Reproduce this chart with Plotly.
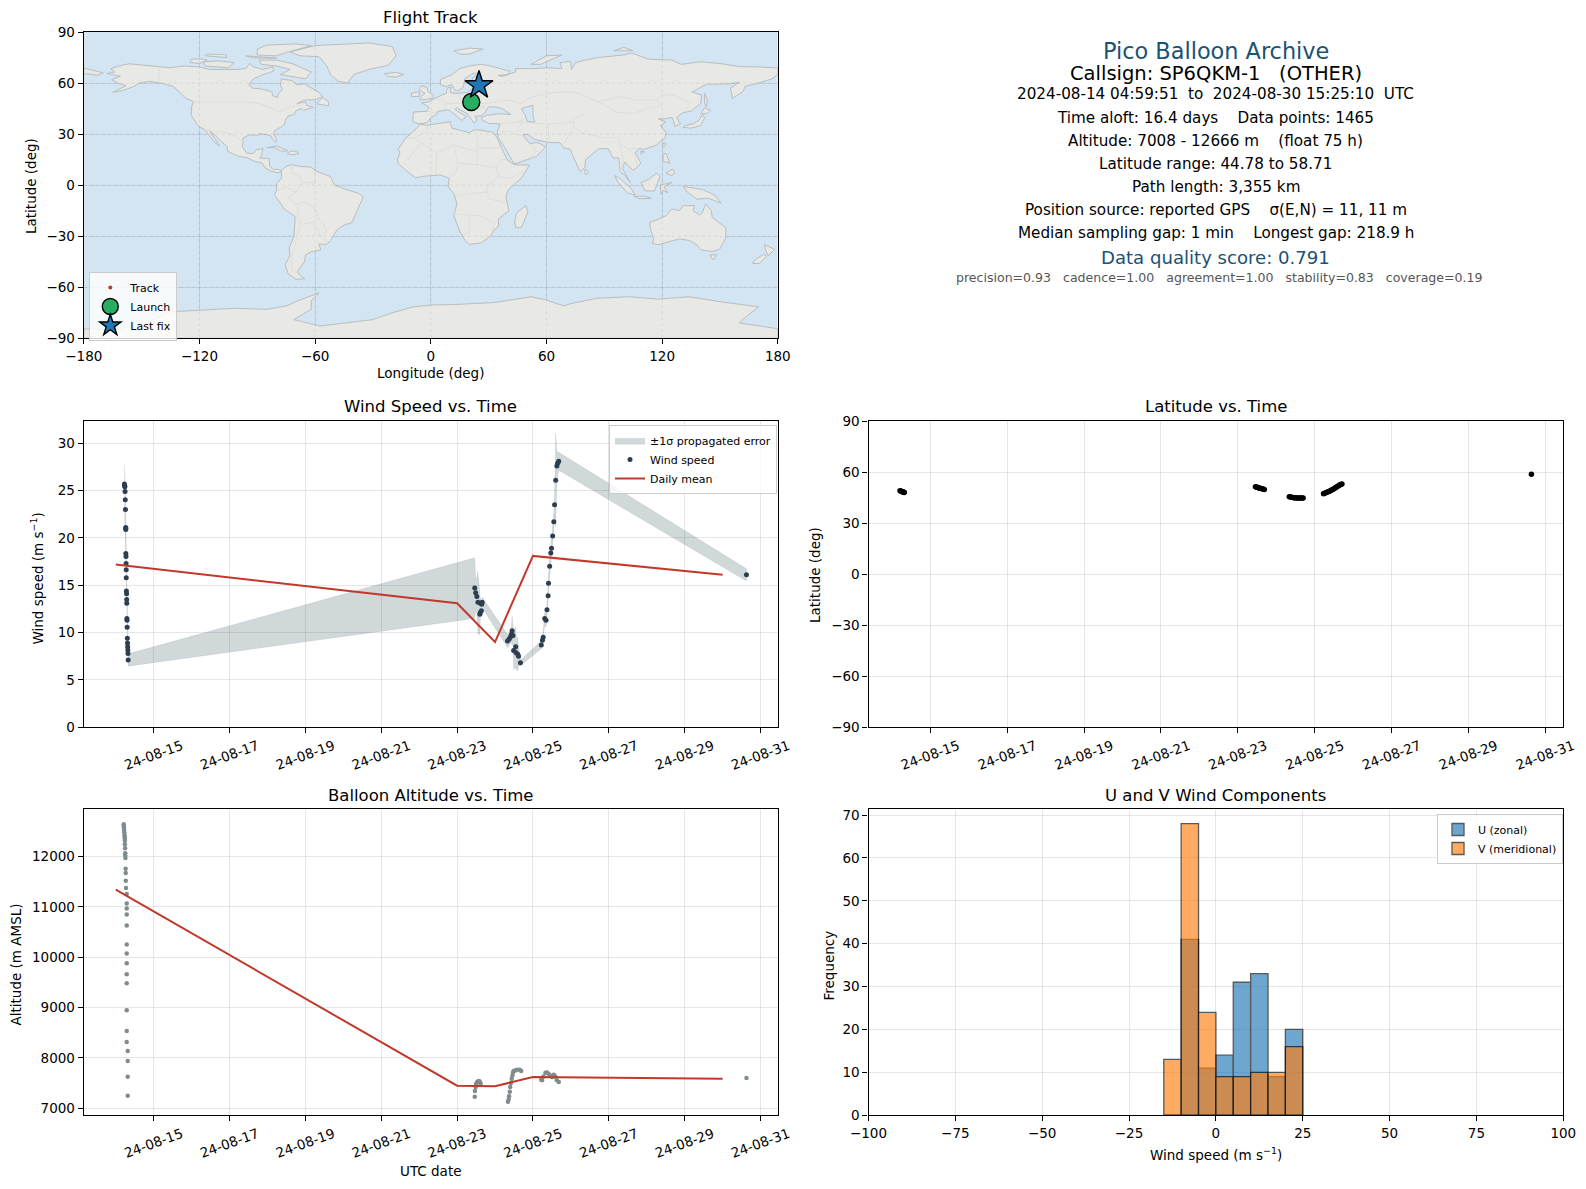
import pandas as pd
import plotly.graph_objects as go

# Pico balloon summary page: map, stats text, wind / latitude / altitude vs time, U-V histogram

# page has an 8px body margin, so the figure is 16px smaller than the window and positions below are window pixels
PAGE = 8
W = 1586 - 2 * PAGE
H = 1189 - 2 * PAGE

# --- land outlines (lon, lat) ---
north_america = [(-168,65.6),(-164,66.5),(-166,68.4),(-162,70),(-156.5,71.3),(-150,70.5),(-141,69.7),(-135,69),(-128,70),(-120,69.5),(-115,68),(-108,68),(-100,68),(-96,68.5),(-94,71.5),(-92,69.5),(-87,68),(-82,69.5),(-81.5,67),(-87,65),(-92,62.5),(-94.5,59),(-92.5,57),(-88,56.5),(-82.5,55),(-82,52.5),(-79.5,51.5),(-79,54),(-77,56),(-78,58.5),(-77.5,62.4),(-72,61.5),(-69.5,59),(-65.5,59.5),(-62,57),(-58,54.5),(-56,52),(-60,50.2),(-66,50),(-69.5,47.8),(-65,49),(-64.5,47),(-61,45.7),(-66,44),(-67,45),(-70,43.7),(-70.7,41.7),(-74,40.6),(-75.5,38),(-76,35.5),(-78,34),(-81,32),(-81.5,30),(-80,26.8),(-80.5,25.2),(-82,26.8),(-83,29),(-85,29.7),(-89,30.3),(-90,29.2),(-94,29.6),(-97.3,27.8),(-97.7,22.5),(-95.5,18.8),(-92,18.6),(-90.5,20.8),(-87,21.5),(-88,17),(-88.8,15.8),(-84,15.8),(-83.5,11),(-81.5,9),(-79.5,9.4),(-77.5,8.6),(-78,7.5),(-80,7.3),(-83,8.3),(-85.8,10),(-87.5,13),(-91.5,14),(-95,16),(-100,17),(-105.5,20),(-105.5,22.5),(-109,26),(-112.5,30),(-114.7,31.7),(-112,27.5),(-109.5,23),(-112,25),(-115,29.5),(-117.2,32.6),(-120.5,34.5),(-122.5,37.8),(-124.3,41),(-124,46.5),(-123,49),(-127,51),(-130.5,54.5),(-133.5,58),(-140,60),(-146,61),(-151,60),(-154,58),(-160,55.5),(-165,54.5),(-158,58.5),(-162,59.8),(-165.5,62),(-161,64)]
baffin = [(-80,73.5),(-72,71.5),(-67,69),(-62,66.5),(-65,62.5),(-72,64),(-78,65),(-73,68),(-80,70),(-88,71),(-89,73.5)]
victoria_isl = [(-117,70),(-105,69),(-102,72),(-110,73),(-118,72.5)]
banks_isl = [(-125,72),(-120,71.5),(-116,73.5),(-119,74.2),(-124,74)]
ellesmere = [(-90,76.5),(-80,76),(-75,78),(-62,82),(-70,83),(-85,82.3),(-90,80)]
devon_isl = [(-96,76),(-82,75),(-80,74.7),(-92,74.7)]
melville_isl = [(-117,76),(-106,75),(-106,76.6),(-116,77)]
newfoundland = [(-59,47.7),(-53,46.7),(-53,49),(-56,51.5),(-58,49.5)]
cuba = [(-85,22),(-80,23),(-74.2,20.2),(-77.5,19.9),(-81,22)]
hispaniola = [(-74.4,18.5),(-71.5,17.8),(-68.4,18.6),(-70,19.9),(-73,19.9)]
greenland = [(-73,78.3),(-60,82),(-32,83.6),(-20,81.5),(-18,76),(-22,70.5),(-32,68),(-40,65),(-43,60),(-48,61),(-52,65),(-54,70),(-58,75.5),(-68,76)]
iceland = [(-24,65.5),(-18,66.3),(-14,65),(-18,63.5),(-22.5,64)]
south_america = [(-77.5,8.6),(-75,11),(-72,12),(-68,11),(-62,10.6),(-60,8.5),(-52,5),(-50,0),(-44,-2.5),(-37.5,-4.8),(-35,-7),(-37,-12),(-39,-17),(-41,-22),(-45,-23.5),(-48.5,-26),(-52,-32.5),(-54,-34.8),(-58,-34.5),(-57,-38),(-62,-39),(-65,-41),(-65.5,-45),(-69,-50.5),(-68.3,-52.5),(-65.3,-55),(-70,-55.3),(-74,-52),(-75.5,-47),(-73,-41),(-73.5,-37),(-71,-30),(-70.3,-18.5),(-76,-14),(-81,-6),(-80,-2.5),(-80,1),(-77.5,4)]
africa = [(-5.9,35.8),(-2,35.2),(10,37.3),(11,33.5),(15,32.3),(20,30.8),(23,32.7),(32,31.2),(34.3,28),(37,21),(39.5,15),(43.2,12),(51.2,11.8),(47,4.2),(40,-3),(39,-7),(40.5,-15),(35,-20),(35.3,-24),(32.7,-26.5),(31,-30),(26,-34),(20,-34.8),(18,-33),(15,-27),(12,-18),(13.5,-11),(12,-5),(9,-1),(9.5,4),(5,6),(-4,5.2),(-8,4.3),(-13,8.8),(-16.8,12.5),(-17.3,14.7),(-16,19.5),(-17,21),(-13,27.7),(-9.7,31),(-6.5,34.3)]
madagascar = [(49.3,-12),(50.4,-15.6),(47,-25),(44,-25),(43.5,-21),(44.5,-16.3)]
eurasia = [(-9,37),(-9.3,39),(-9,43),(-2,43.4),(-1,46),(-4.7,48.4),(-1.5,48.8),(2,51),(4,52),(8,54),(8.5,57),(10.5,57.5),(10,54.5),(12,54),(14,54),(19,54.5),(21,56),(24,57.5),(24,59.3),(30,60),(23,60),(21.5,61),(21.5,63),(25,65),(22,65.7),(17.5,62.5),(17.5,60.5),(16.5,57),(14,55.5),(12.5,56),(11,59),(8,58),(5,59),(5,62),(11,65),(15,68.5),(20,70),(26,71),(31,70),(41,67),(40,65),(35,64.5),(37,63.8),(44,66.5),(44,68.5),(54,68.5),(60,69),(68,68.5),(67,72),(72.5,72.8),(73,68),(75,72),(80,73.5),(87,75),(100,76.5),(104,77.7),(113,74),(125,73.5),(130,71),(140,72.5),(150,71.5),(160,69.7),(170,69.5),(180,68.8),(180,65),(177,62.5),(170,60),(163,58),(162,55),(156.5,51),(155.5,57),(160,60.5),(155,59.5),(143,59.3),(135.5,54.7),(140.5,53),(140,48),(135,43.5),(130.5,42.5),(127.5,39.8),(129.5,36),(126.5,34.5),(126,37.5),(125,39.8),(121.5,39),(118,39),(122,37),(119,35),(122,31),(121.5,28),(117,23.5),(110.5,21),(108,21.5),(106,19),(109,13),(106.5,10),(105,8.7),(100.5,13.5),(99.5,9.5),(103.5,1.5),(100.5,6),(98.3,8),(97.5,16),(94.5,16),(92,21.5),(87,21.3),(80.3,15),(80,10.5),(77.5,8),(73,19),(72.5,21),(69,22),(67,25),(61.5,25),(57,26),(54,26.8),(50,30),(48,29.5),(50.3,26),(51.5,24.5),(55,25),(56.5,24.5),(59.5,22.5),(55,17),(45,13),(43,12.8),(39,21),(35,28),(34.5,31.5),(36,36),(30,36.3),(26.5,38.5),(26.5,40),(29,41),(35,42),(41.5,41.5),(37,45),(35,45.4),(33,46),(30,46),(28,42.5),(26,40.7),(23,40.5),(24,38),(22.5,36.5),(19.5,41),(19,42),(13.5,45.5),(12.5,44.5),(18.5,40.2),(16,38),(12,42),(9,44.3),(3.5,43.3),(3,41.7),(0,39.5),(-2,36.8),(-5.5,36)]
chukotka = [(-180,68.8),(-175,67.5),(-170,66),(-173,64.5),(-178,65.5),(-180,65)]
great_britain = [(-5.5,50),(1,51),(1.5,52.8),(-1.5,55),(-2,57.5),(-5,58.5),(-6,56),(-3,54),(-5,52)]
ireland = [(-10,52),(-6,52.2),(-6,55),(-10,54)]
svalbard = [(12,79),(20,80.5),(27,80),(20,77),(15,77)]
novaya_zemlya = [(52,71),(57,71),(68,76.5),(60,76)]
severnaya = [(95,79),(105,79),(100,81)]
sakhalin = [(142,54),(143.5,50),(143,46),(142,48)]
honshu = [(130.8,34),(135,33.5),(140,35),(142,39.5),(141,41.5),(139,38),(136,36),(132,35)]
hokkaido = [(140,42),(143,42),(145,44),(142,45.5)]
taiwan = [(121,25),(122,24.5),(120.8,22),(120,23)]
hainan = [(109,20),(110.8,19.6),(109,18.2)]
luzon = [(120.5,18.5),(122,18.5),(124,13),(120.5,14)]
mindanao = [(122,7),(125.5,9.5),(126.5,7),(125,5.7)]
sumatra = [(95.3,5.6),(98,4),(104,-2),(106,-6),(102,-4.5),(97,2)]
java = [(105.5,-6.5),(111,-6.5),(114.5,-7.8),(108,-7.9)]
borneo = [(109,1.5),(113,3.3),(117,7),(119,5),(117.5,1),(116,-3.5),(111,-3.2)]
sulawesi = [(119.5,-5.5),(119,0),(125,1.5),(121,-1),(123,-4.5),(120.5,-3)]
new_guinea = [(131,-0.8),(141,-2.6),(147.5,-6),(150.5,-10.5),(144,-7.7),(138,-8.2),(133,-4)]
sri_lanka = [(80,9.5),(82,7.5),(80.5,6),(79.8,8)]
tasmania = [(145,-41),(148.3,-41),(147,-43.5),(146,-43.5)]
nz_north = [(173,-35),(178.5,-37.7),(175,-41.5),(174,-39)]
nz_south = [(172.5,-40.7),(174.3,-41.7),(170.5,-46),(167,-46),(168,-44)]
australia = [(113.5,-22),(114,-26),(115.5,-31.5),(115,-34.3),(118,-35),(124,-33),(129,-31.6),(134,-32.5),(138,-35),(140,-38),(146,-39),(150,-37.5),(153,-31),(153,-25),(146,-19),(145.5,-15),(142.5,-11),(141,-16),(139.5,-17.5),(136,-15),(136.8,-12),(131,-12),(129,-15),(125,-14),(122,-18),(117,-20.5)]
antarctica = [(-180,-84.5),(-165,-85),(-150,-82),(-135,-74.4),(-120,-73.5),(-102,-72.4),(-85,-73),(-75,-71),(-68,-67.5),(-58,-63.3),(-62,-68),(-62,-73),(-71,-79),(-57.6,-82.8),(-30,-79),(-20,-75),(-9,-71.5),(0,-70.5),(15,-70),(33,-69),(52,-65.6),(60,-67.5),(69,-71),(72,-69.8),(86,-66.5),(103,-65.6),(118,-67),(134,-65.6),(150,-68.5),(162,-70.5),(170,-71.5),(163.5,-77.3),(160,-81),(178,-84),(180,-84.5),(180,-90),(-180,-90)]
caspian = [(47,45),(53,47),(53,41),(54,37),(50,37.5),(49,41)]

land_shapes = [north_america, baffin, victoria_isl, banks_isl, ellesmere, devon_isl, melville_isl, newfoundland, cuba, hispaniola,
               greenland, iceland, south_america, africa, madagascar, eurasia, chukotka, great_britain, ireland, svalbard, novaya_zemlya,
               severnaya, sakhalin, honshu, hokkaido, taiwan, hainan, luzon, mindanao, sumatra, java, borneo, sulawesi, new_guinea,
               sri_lanka, tasmania, nz_north, nz_south, australia, antarctica]

borders = [
    [(-123,49),(-95,49),(-89,48),(-83,45.5),(-79,43),(-75,45),(-69,47.3),(-67,45)], [(-141,69.7),(-141,60)],
    [(-117,32.5),(-108,31.5),(-103,29.5),(-97.3,26)],
    [(-72,12),(-72,7),(-67.5,6),(-67,1.5),(-70,-4),(-74,-7.5),(-70.5,-11),(-65,-10),(-60,-14),(-58,-20),(-55,-24),(-54,-27),(-57.5,-30),(-53.5,-33.5)],
    [(-70,-18),(-68,-24),(-70,-33),(-72,-42),(-72,-50),(-69,-52)], [(-69,-11),(-69,-17),(-67,-23),(-62.5,-22),(-58,-20)],
    [(-80,-3.5),(-75,-1),(-70,-4)], [(-60,8.5),(-60,1.5),(-67,1.5)], [(-62,-22),(-58,-27),(-57.5,-30)],
    [(-2,35),(-1.5,32),(-8.5,28),(-13,27.7)], [(-8.5,27.5),(3,19),(12,23.5),(24,20),(24,31.5)], [(25,22),(37,22)],
    [(12,23.5),(14,13),(13,7),(9,4.5)], [(3,19),(3,11.5),(2.5,6.5)], [(-12,15),(-5,25)], [(14,13),(24,12),(24,20)],
    [(24,12),(34,10),(36,15),(39,15)], [(34,10),(35,5),(41,4),(48,8)], [(35,5),(29,-1),(30,-8),(39.5,-10.5)],
    [(13,-6),(29,-4)], [(12,-17),(25,-18),(33,-22),(32,-26)], [(20,-18),(20,-28),(17,-29)],
    [(28,59),(28,55),(24,52),(23,49),(28,45.5),(22,44)], [(3,51),(8,49),(7,44)], [(-1.8,43.4),(3,42.5)], [(14,54),(15,51),(23,49.5)],
    [(8,48),(17,48),(22,48),(28,48),(40,50),(47,48),(50,51),(61,54),(70,55),(77,54),(87,49)],
    [(87,49),(98,52),(107,50),(117,50),(120,53),(126,53),(135,48),(131,43)], [(87,49),(96,43),(105,42),(112,45),(120,47),(117,50)],
    [(80,42),(74,39),(74,34),(78,31),(88,28),(97,28),(98,24),(102,21.5),(108,21.5)], [(61,36),(61,30),(61.5,25)],
    [(44,37),(48,38.5),(45,33),(48,30)], [(36,36),(44,37),(61,36),(74,37)], [(74,34),(71,28),(69,24)],
    [(35,29),(39,32),(47,29),(52,23),(55,20),(52,17)], [(98,24),(100,15),(99,10)], [(102,21.5),(106,17),(107,11)],
]

# --- flight track ---
track_lon = [20.6, 21.0, 21.4, 21.8, 22.0, 21.5, 21.0, 22.4]
track_lat = [48.9, 47.0, 45.5, 44.8, 46.0, 48.0, 50.5, 52.9]
launch_lon = [21.0]
launch_lat = [48.9]
last_lon = [25.0]
last_lat = [58.7]

# --- wind speed: time as fractional day of August 2024, speed and 1 sigma error (m/s) ---
wind_day = [14.228,14.232,14.236,14.24,14.245,14.25,14.255,14.262,14.263,14.264,14.265,14.27,14.272,14.275,14.276,14.28,14.285,14.288,14.29,14.293,14.296,14.30,14.305,14.31,14.314,14.318,14.322,14.326,
            23.465,23.49,23.52,23.55,23.60,23.61,23.615,23.64,23.65,23.66,
            24.33,24.37,24.40,24.43,24.45,24.475,24.49,24.545,24.55,24.60,24.62,24.67,
            25.22,25.25,25.27,25.31,25.345,25.37,25.40,25.41,25.44,25.47,25.49,25.52,25.55,25.57,25.60,25.63,25.65,25.68,
            30.63]
wind_speed = [25.7,25.6,25.5,25.4,24.9,24.05,23.0,21.1,21.0,20.9,18.35,18.05,17.3,16.65,15.8,14.4,14.1,13.5,13.1,11.5,11.3,10.55,9.4,8.9,8.5,8.15,7.8,7.1,
              14.7,14.2,13.8,13.2,11.95,12.1,13.1,12.3,13.0,13.2,
              9.1,9.3,9.5,9.8,10.2,9.7,8.1,8.5,7.9,7.7,7.5,6.8,
              8.7,9.2,9.5,11.5,11.3,12.4,13.9,15.2,17.0,18.4,18.9,20.2,21.7,23.5,26.1,27.6,27.9,28.1,
              16.1]
wind_err = [2.1,2.0,1.9,1.9,1.5,1.3,1.2,1.0,1.0,1.0,0.9,0.9,0.8,0.8,0.8,0.7,0.7,0.7,0.7,0.6,0.6,0.6,0.6,0.6,0.6,0.6,0.6,0.65,
            3.2,1.7,1.9,3.3,2.2,1.0,0.6,0.5,0.5,0.55,
            0.7,0.7,0.7,0.8,1.5,1.0,2.0,2.1,1.8,1.7,1.0,0.3,
            0.4,0.5,0.6,0.7,0.7,0.8,0.8,0.8,0.9,0.9,0.9,1.0,1.0,1.0,5.0,1.5,1.2,0.95,
            0.65]
mean_day = [14, 23, 24, 25, 30]
mean_wind = [17.2, 13.1, 9.0, 18.1, 16.1]
mean_alt = [11340, 7450, 7440, 7620, 7590]

# --- latitude ---
lat_day = [14.21,14.23,14.25,14.27,14.29,14.31,14.32,
           23.46,23.48,23.50,23.52,23.54,23.56,23.58,23.60,23.63,23.66,23.69,
           24.34,24.37,24.40,24.43,24.46,24.49,24.52,24.55,24.58,24.61,24.64,24.67,24.70,
           25.23,25.26,25.29,25.32,25.35,25.38,25.41,25.44,25.47,25.50,25.53,25.56,25.59,25.62,25.65,25.68,25.71,
           30.64]
lat_deg = [48.95,48.8,48.6,48.4,48.3,48.1,48.0,
           51.4,51.2,51.0,50.9,50.7,50.5,50.4,50.3,50.1,50.0,49.8,
           45.4,45.3,45.2,45.0,44.9,44.85,44.8,44.8,44.8,44.8,44.8,44.8,44.8,
           47.2,47.5,47.8,48.1,48.4,48.7,49.0,49.4,49.8,50.2,50.6,51.1,51.5,52.0,52.4,52.7,53.0,
           58.7]

# --- altitude ---
alt_day = [14.21,14.21,14.215,14.22,14.225,14.23,14.235,14.236,14.24,14.24,14.245,14.25,14.25,14.255,14.26,14.262,14.263,14.27,14.289,14.289,14.289,14.289,14.289,14.289,14.289,14.289,14.289,14.289,14.289,14.289,14.289,14.315,14.315,14.315,14.315,
           23.465,23.47,23.49,23.50,23.53,23.56,23.58,23.60,23.62,
           24.34,24.36,24.37,24.39,24.40,24.42,24.44,24.46,24.475,24.49,24.53,24.58,24.65,24.69,
           25.22,25.24,25.28,25.33,25.37,25.41,25.46,25.50,25.55,25.59,25.63,25.68,
           30.63]
alt_m = [12639,12613,12573,12527,12481,12428,12395,12362,12310,12244,12165,12066,12020,11967,11756,11671,11519,11374,11255,11064,10965,10847,10629,10254,10076,9878,9661,9483,8949,8534,8316,8138,7941,7625,7249,
         7229,7346,7425,7490,7523,7536,7542,7523,7490,
         7131,7176,7242,7327,7425,7503,7588,7654,7712,7739,7752,7765,7765,7739,
         7569,7556,7634,7706,7712,7686,7654,7621,7667,7634,7556,7523,
         7601]

# --- histogram of U and V ---
bin_centers = [-12.5, -7.5, -2.5, 2.5, 7.5, 12.5, 17.5, 22.5]
u_counts = [0, 41, 11, 14, 31, 33, 9, 20]
v_counts = [13, 68, 24, 9, 9, 10, 10, 16]

map_xticks = [-180, -120, -60, 0, 60, 120, 180]
map_yticks = [-90, -60, -30, 0, 30, 60, 90]

INK = '#2c3e50'
RED = '#c0392b'
GREY_PTS = '#7f8c8d'
NAVY = '#1a5276'
GRID = 'rgba(128,128,128,0.2)'
FONT = 'DejaVu Sans'


def to_time(days):
    return [(pd.Timestamp('2024-08-01') + pd.Timedelta(days=d - 1)).isoformat() for d in days]


def flat(lines, close=False):
    xs, ys = [], []
    for line in lines:
        xs += [p[0] for p in line]
        ys += [p[1] for p in line]
        if close:
            xs.append(line[0][0])
            ys.append(line[0][1])
        xs.append(None)
        ys.append(None)
    return xs, ys


def fx(px):
    return (px - PAGE) / W


def fy(py):
    return 1 - (py - PAGE) / H


def label(text, px, py, size, color='black', angle=0):
    fig.add_annotation(text=text, xref='paper', yref='paper', x=fx(px), y=fy(py), showarrow=False,
                       font=dict(size=size, color=color), xanchor='center', yanchor='middle', textangle=angle)


fig = go.Figure()

# map panel
x, y = flat(land_shapes, close=True)
fig.add_trace(go.Scatter(x=x, y=y, mode='lines', fill='toself', fillcolor='#e8e8e4', line=dict(color='#b4b9bb', width=0.9),
                         hoverinfo='skip', showlegend=False, xaxis='x', yaxis='y'))
x, y = flat(borders)
fig.add_trace(go.Scatter(x=x, y=y, mode='lines', line=dict(color='#dbdbd8', width=0.8), hoverinfo='skip', showlegend=False, xaxis='x', yaxis='y'))
x, y = flat([caspian], close=True)
fig.add_trace(go.Scatter(x=x, y=y, mode='lines', fill='toself', fillcolor='#d3e5f2', line=dict(color='#b4b9bb', width=0.9),
                         hoverinfo='skip', showlegend=False, xaxis='x', yaxis='y'))
fig.add_trace(go.Scatter(x=track_lon, y=track_lat, mode='markers', name='Track', marker=dict(color=RED, size=4), xaxis='x', yaxis='y', legend='legend'))
fig.add_trace(go.Scatter(x=launch_lon, y=launch_lat, mode='markers', name='Launch', marker=dict(color='#27ae60', size=17, line=dict(color='black', width=1.4)), xaxis='x', yaxis='y', legend='legend'))
fig.add_trace(go.Scatter(x=last_lon, y=last_lat, mode='markers', name='Last fix', marker=dict(color='#1f77b4', size=21, symbol='star', line=dict(color='black', width=1.4)), xaxis='x', yaxis='y', legend='legend'))

# wind speed panel
band_x = to_time(wind_day) + to_time(wind_day[::-1])
band_y = [s + e for s, e in zip(wind_speed, wind_err)] + [s - e for s, e in zip(wind_speed[::-1], wind_err[::-1])]
fig.add_trace(go.Scatter(x=band_x, y=band_y, mode='lines', fill='toself', fillcolor='rgba(40,70,80,0.21)', line=dict(color='rgba(40,70,80,0.12)', width=0.7),
                         name='±1σ propagated error', xaxis='x2', yaxis='y2', legend='legend2'))
fig.add_trace(go.Scatter(x=to_time(wind_day), y=wind_speed, mode='markers', name='Wind speed', marker=dict(color=INK, size=5), xaxis='x2', yaxis='y2', legend='legend2'))
fig.add_trace(go.Scatter(x=to_time(mean_day), y=mean_wind, mode='lines', name='Daily mean', line=dict(color=RED, width=2), xaxis='x2', yaxis='y2', legend='legend2'))

# latitude panel
fig.add_trace(go.Scatter(x=to_time(lat_day), y=lat_deg, mode='markers', marker=dict(color='black', size=5.5), showlegend=False, xaxis='x3', yaxis='y3'))

# altitude panel
fig.add_trace(go.Scatter(x=to_time(alt_day), y=alt_m, mode='markers', marker=dict(color=GREY_PTS, size=4.5), showlegend=False, xaxis='x4', yaxis='y4'))
fig.add_trace(go.Scatter(x=to_time(mean_day), y=mean_alt, mode='lines', line=dict(color=RED, width=2), showlegend=False, xaxis='x4', yaxis='y4'))

# histogram panel
fig.add_trace(go.Bar(x=bin_centers, y=u_counts, width=5, name='U (zonal)', marker=dict(color='#1f77b4', line=dict(color='black', width=1.3)), opacity=0.65, xaxis='x5', yaxis='y5', legend='legend3'))
fig.add_trace(go.Bar(x=bin_centers, y=v_counts, width=5, name='V (meridional)', marker=dict(color='#ff7f0e', line=dict(color='black', width=1.3)), opacity=0.65, xaxis='x5', yaxis='y5', legend='legend3'))

axis_style = dict(showline=True, mirror=True, linecolor='black', linewidth=1.3, ticks='outside', ticklen=5, tickwidth=1, tickcolor='black', automargin=False,
                  showgrid=True, gridcolor=GRID, gridwidth=1, zeroline=False, tickfont=dict(size=13.5, color='black'))
time_axis = dict(axis_style, type='date', tickformat='%y-%m-%d', tick0='2024-08-15', dtick=172800000, tickangle=-20, ticklabelshift=28)
legend_style = dict(xanchor='left', yanchor='top', bgcolor='rgba(255,255,255,0.8)', bordercolor='#cccccc', borderwidth=1, font=dict(size=11), tracegroupgap=0)

col1 = [fx(83.8), fx(777.8)]
col2 = [fx(868.5), fx(1563.3)]
row1 = [fy(338.3), fy(32)]
row2 = [fy(727.2), fy(421)]
row3 = [fy(1115.2), fy(809)]

fig.update_layout(
    width=W, height=H, margin=dict(l=0, r=0, t=0, b=0), paper_bgcolor='white', plot_bgcolor='white',
    font=dict(family=FONT, color='black'), barmode='overlay',
    xaxis=dict(axis_style, domain=col1, range=[-180, 180], tickvals=map_xticks),
    yaxis=dict(axis_style, domain=row1, range=[-90, 90], tickvals=map_yticks),
    xaxis2=dict(time_axis, domain=col1, range=to_time([13.157, 31.456]), anchor='y2'),
    yaxis2=dict(axis_style, domain=row2, range=[0, 32.36], tickvals=[0, 5, 10, 15, 20, 25, 30], anchor='x2'),
    xaxis3=dict(time_axis, domain=col2, range=to_time([13.39, 31.47]), anchor='y3'),
    yaxis3=dict(axis_style, domain=row2, range=[-90, 90], tickvals=map_yticks, anchor='x3'),
    xaxis4=dict(time_axis, domain=col1, range=to_time([13.157, 31.456]), anchor='y4'),
    yaxis4=dict(axis_style, domain=row3, range=[6864, 12942], tickvals=[7000, 8000, 9000, 10000, 11000, 12000], tickformat='d', anchor='x4'),
    xaxis5=dict(axis_style, domain=col2, range=[-100, 100], tickvals=[-100, -75, -50, -25, 0, 25, 50, 75, 100], anchor='y5'),
    yaxis5=dict(axis_style, domain=row3, range=[0, 71.4], tickvals=[0, 10, 20, 30, 40, 50, 60, 70], anchor='x5'),
    legend=dict(legend_style, x=fx(89.3), y=fy(272)),
    legend2=dict(legend_style, x=fx(609), y=fy(425)),
    legend3=dict(legend_style, x=fx(1437), y=fy(814)),
)

# ocean behind the map, dashed graticule above it
fig.add_shape(type='rect', xref='x', yref='y', x0=-180, x1=180, y0=-90, y1=90, fillcolor='#d3e5f2', line=dict(width=0), layer='below')
for v in map_xticks[1:-1]:
    fig.add_shape(type='line', xref='x', yref='y', x0=v, x1=v, y0=-90, y1=90, line=dict(color='rgba(110,110,110,0.13)', width=1, dash='dot'), layer='above')
for v in map_yticks[1:-1]:
    fig.add_shape(type='line', xref='x', yref='y', x0=-180, x1=180, y0=v, y1=v, line=dict(color='rgba(110,110,110,0.13)', width=1, dash='dot'), layer='above')

# panel titles
for text, px, py in [('Flight Track', 430.7, 17.5), ('Wind Speed vs. Time', 430.7, 406), ('Latitude vs. Time', 1215.8, 406),
                     ('Balloon Altitude vs. Time', 430.7, 795), ('U and V Wind Components', 1215.8, 795)]:
    label(text, px, py, 16.5)

# axis titles
label('Longitude (deg)', 430.7, 373, 13.5)
label('UTC date', 430.7, 1171, 13.5)
label('Wind speed (m s<sup>−1</sup>)', 1215.8, 1154, 13.5)
label('Latitude (deg)', 30.5, 186.5, 13.5, angle=-90)
label('Wind speed (m s<sup>−1</sup>)', 37.5, 579, 13.5, angle=-90)
label('Altitude (m AMSL)', 15.5, 965, 13.5, angle=-90)
label('Latitude (deg)', 815, 575, 13.5, angle=-90)
label('Frequency', 828, 965.5, 13.5, angle=-90)

# stats text panel
stats = [
    ('Pico Balloon Archive', 50.6, 22.4, NAVY, 1215.8),
    ('Callsign: SP6QKM-1\u00a0\u00a0\u00a0(OTHER)', 73.3, 19.5, 'black', 1215.8),
    ('2024-08-14 04:59:51\u00a0\u00a0to\u00a0\u00a02024-08-30 15:25:10\u00a0\u00a0UTC', 94.5, 15.2, 'black', 1215.8),
    ('Time aloft: 16.4 days\u00a0\u00a0\u00a0\u00a0Data points: 1465', 118, 15.2, 'black', 1215.8),
    ('Altitude: 7008 - 12666 m\u00a0\u00a0\u00a0\u00a0(float 75 h)', 141, 15.2, 'black', 1215.8),
    ('Latitude range: 44.78 to 58.71', 164.2, 15.2, 'black', 1215.8),
    ('Path length: 3,355 km', 187, 15.2, 'black', 1215.8),
    ('Position source: reported GPS\u00a0\u00a0\u00a0\u00a0σ(E,N) = 11, 11 m', 210.2, 15.2, 'black', 1215.8),
    ('Median sampling gap: 1 min\u00a0\u00a0\u00a0\u00a0Longest gap: 218.9 h', 233.2, 15.2, 'black', 1215.8),
    ('Data quality score: 0.791', 257, 18.1, NAVY, 1215.8),
    ('precision=0.93\u00a0\u00a0\u00a0cadence=1.00\u00a0\u00a0\u00a0agreement=1.00\u00a0\u00a0\u00a0stability=0.83\u00a0\u00a0\u00a0coverage=0.19', 277.5, 12.55, '#555555', 1219.8),
]
for text, py, size, color, px in stats:
    label(text, px, py, size, color)

fig.write_html("out.html")
